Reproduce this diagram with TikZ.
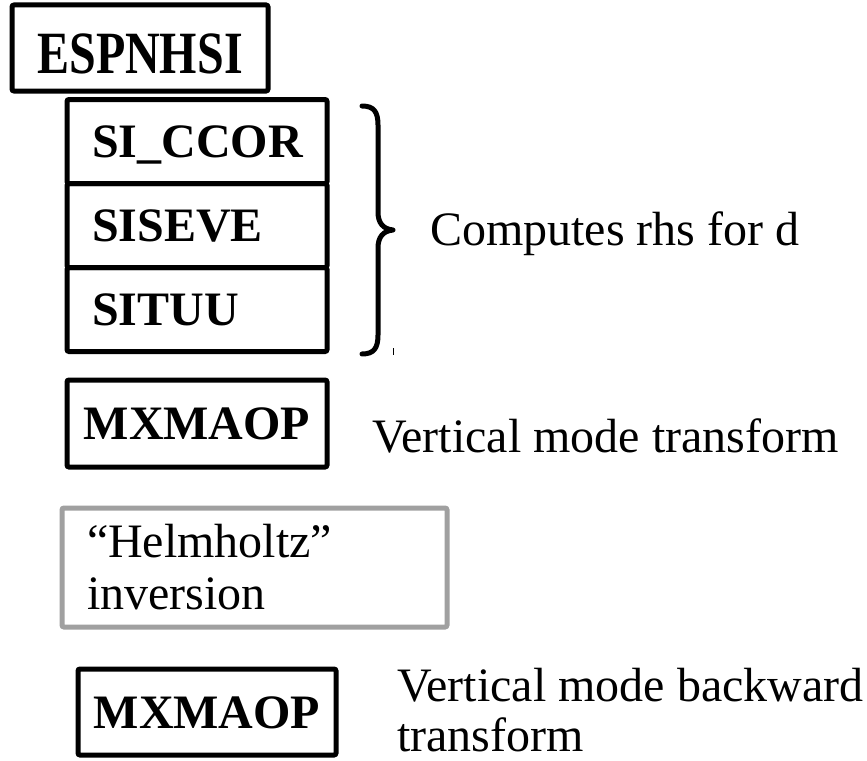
\documentclass[tikz,border=0pt]{standalone}
\usepackage{fontspec}
\setmainfont{Liberation Serif}
\usepackage {tikz}
\usetikzlibrary {positioning}
\definecolor{boxgray}{RGB}{160,160,160}
\tikzset{
    routine/.style = {rectangle, draw, line width=5pt, rounded corners=2pt, inner sep=0pt,
        font=\fontsize{48}{52}\selectfont\bfseries, text height=32pt, text depth=0pt},
    cell/.style = {routine, minimum width=260pt, minimum height=84pt, text width=210pt, align=left},
    note/.style = {font=\fontsize{48}{50}\selectfont, inner sep=0pt}}

\begin{document}
\begin{tikzpicture}[x=1pt, y=-1pt, node distance = 84pt and 2cm, on grid,
    graybox/.style = {rectangle, draw=boxgray, line width=5pt, rounded corners=2pt, inner sep=0pt,
        minimum width=385pt, minimum height=119pt, text width=335pt, align=left,
        font=\fontsize{48}{52}\selectfont},
    brace/.style = {line width=5pt, line cap=round, line join=round}
    ]
    \useasboundingbox (0,0) rectangle (867,760);
    \node[routine, minimum width=256pt, minimum height=86pt, text height=52pt] (ESP) at (140,48) {\scalebox{1}[1.25]{ESPNHSI}};
    \node[cell] (SIC) at (197,141.5) {SI\_CCOR};
    \node[cell, below = of SIC] (SIS) {SISEVE};
    \node[cell, below = of SIS] (SIT) {SITUU};
    \draw[brace] (362,106) .. controls (374,106) and (378,112) .. (378,125) -- (378,212)
        .. controls (378,223) and (383,229) .. (393,230)
        .. controls (383,231) and (378,237) .. (378,248) -- (378,335)
        .. controls (378,348) and (374,354) .. (362,354);
    \draw[line width=1pt] (393,348) -- (393,355);
    \node[note, anchor=base west] (RHS) at (430,245) {Computes rhs for d};
    \node[routine, minimum width=260pt, minimum height=87pt] (MX1) at (197,423.5) {MXMAOP};
    \node[note, anchor=base west] (VMT) at (372,452) {Vertical mode transform};
    \node[graybox] (HEL) at (254.5,567.5) {“Helmholtz”\\inversion};
    \node[routine, minimum width=258pt, minimum height=86pt] (MX2) at (207,712) {MXMAOP};
    \node[note, anchor=west, align=left] (VMB) at (397,710) {Vertical mode backward\\transform};
\end{tikzpicture}
\end{document}
